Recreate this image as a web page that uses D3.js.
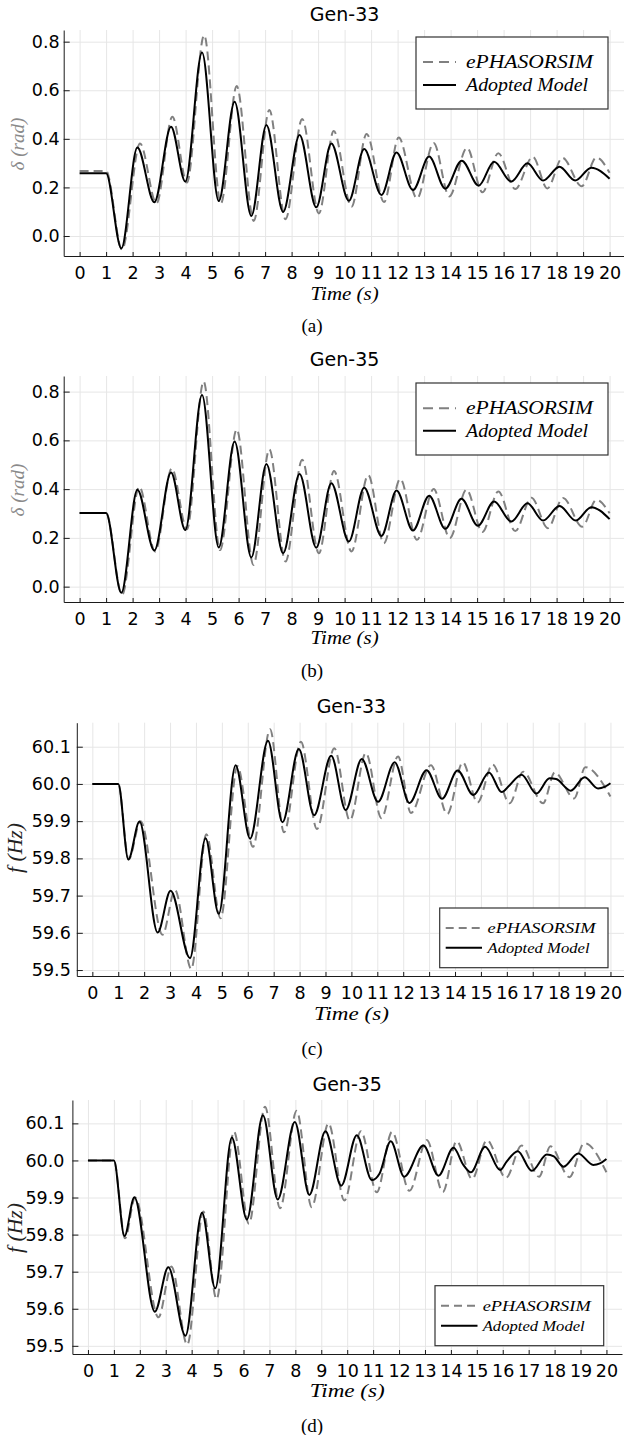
<!DOCTYPE html>
<html>
<head>
<meta charset="utf-8">
<script src="https://cdn.jsdelivr.net/npm/d3@7"></script>
<style>
  body { margin: 0; background: #fff; }
  svg { display: block; }
</style>
</head>
<body>
<div id="chart"></div>
<script>
/* global d3 */

// ---- values ----
let timeTicks = [0, 1, 2, 3, 4, 5, 6, 7, 8, 9, 10, 11, 12, 13, 14, 15, 16, 17, 18, 19, 20]
let deltaTicks = [0.0, 0.2, 0.4, 0.6, 0.8]
let freqTicks = [59.5, 59.6, 59.7, 59.8, 59.9, 60.0, 60.1]
let seriesNames = ['ePHASORSIM', 'Adopted Model']
let panelTitles = ['Gen-33', 'Gen-35', 'Gen-33', 'Gen-35']
let captions = ['(a)', '(b)', '(c)', '(d)']

// (a) Gen-33 rotor angle, rad
let g33DeltaRefT = [0, 1, 1.6, 2.28, 2.9, 3.5, 4.05, 4.7, 5.33, 5.93, 6.57, 7.16, 7.77, 8.4, 9.03, 9.59, 10.26, 10.83, 11.49, 12.04, 12.73, 13.36, 13.95, 14.62, 15.2, 15.8, 16.44, 17.1, 17.65, 18.22, 18.95, 19.5, 20]
let g33DeltaRefV = [0.268, 0.268, -0.056, 0.381, 0.134, 0.491, 0.22, 0.827, 0.134, 0.617, 0.062, 0.519, 0.069, 0.482, 0.093, 0.432, 0.12, 0.42, 0.14, 0.405, 0.155, 0.383, 0.163, 0.363, 0.18, 0.341, 0.193, 0.326, 0.196, 0.322, 0.205, 0.323, 0.26]
let g33DeltaModT = [0, 1, 1.575, 2.18, 2.82, 3.45, 3.99, 4.62, 5.25, 5.85, 6.48, 7.05, 7.68, 8.3, 8.93, 9.5, 10.16, 10.74, 11.39, 11.96, 12.58, 13.19, 13.8, 14.42, 15.06, 15.64, 16.29, 16.9, 17.49, 18.11, 18.7, 19.31, 20]
let g33DeltaModV = [0.258, 0.258, -0.051, 0.364, 0.139, 0.45, 0.224, 0.755, 0.144, 0.553, 0.082, 0.457, 0.099, 0.416, 0.118, 0.381, 0.145, 0.358, 0.169, 0.344, 0.189, 0.327, 0.195, 0.31, 0.207, 0.306, 0.224, 0.299, 0.228, 0.285, 0.228, 0.281, 0.236]

// (b) Gen-35 rotor angle, rad
let g35DeltaRefT = [0, 1, 1.6, 2.25, 2.85, 3.48, 4.05, 4.68, 5.3, 5.93, 6.56, 7.16, 7.77, 8.4, 9.03, 9.6, 10.26, 10.89, 11.48, 12.1, 12.73, 13.36, 13.97, 14.6, 15.2, 15.8, 16.44, 17.05, 17.67, 18.24, 18.97, 19.5, 20]
let g35DeltaRefV = [0.302, 0.302, -0.034, 0.41, 0.144, 0.485, 0.235, 0.841, 0.15, 0.645, 0.089, 0.563, 0.103, 0.52, 0.137, 0.474, 0.144, 0.458, 0.178, 0.442, 0.192, 0.4, 0.199, 0.398, 0.224, 0.39, 0.228, 0.365, 0.24, 0.364, 0.246, 0.356, 0.301]
let g35DeltaModT = [0, 1, 1.575, 2.18, 2.82, 3.45, 3.99, 4.62, 5.25, 5.85, 6.48, 7.05, 7.68, 8.3, 8.93, 9.5, 10.16, 10.74, 11.39, 11.96, 12.58, 13.19, 13.8, 14.41, 15.03, 15.64, 16.29, 16.9, 17.49, 18.11, 18.72, 19.31, 20]
let g35DeltaModV = [0.302, 0.302, -0.025, 0.397, 0.148, 0.468, 0.232, 0.786, 0.161, 0.595, 0.12, 0.503, 0.137, 0.462, 0.16, 0.424, 0.185, 0.406, 0.208, 0.394, 0.23, 0.373, 0.237, 0.36, 0.25, 0.349, 0.267, 0.342, 0.271, 0.331, 0.271, 0.326, 0.277]

// (c) Gen-33 frequency, Hz
let g33FreqRefT = [0, 1, 1.4, 1.86, 2.71, 3.19, 3.82, 4.4, 4.95, 5.6, 6.2, 6.86, 7.4, 8.05, 8.67, 9.34, 9.94, 10.56, 11.16, 11.8, 12.3, 13.07, 13.7, 14.3, 14.87, 15.45, 16.11, 16.63, 17.4, 17.85, 18.6, 19.03, 20]
let g33FreqRefV = [60.0, 60.0, 59.797, 59.9, 59.595, 59.715, 59.503, 59.865, 59.639, 60.048, 59.831, 60.147, 59.87, 60.113, 59.879, 60.096, 59.902, 60.083, 59.908, 60.074, 59.922, 60.05, 59.919, 60.058, 59.95, 60.052, 59.948, 60.033, 59.948, 60.031, 59.961, 60.045, 59.966]
let g33FreqModT = [0, 1, 1.39, 1.82, 2.52, 3.02, 3.77, 4.37, 4.88, 5.53, 6.09, 6.78, 7.34, 7.97, 8.56, 9.22, 9.78, 10.4, 11.03, 11.67, 12.24, 12.9, 13.5, 14.1, 14.71, 15.31, 15.8, 16.1, 16.57, 17.14, 17.65, 17.9, 18.47, 19.0, 19.52, 19.77, 20]
let g33FreqModV = [60.0, 60.0, 59.797, 59.899, 59.601, 59.713, 59.532, 59.854, 59.651, 60.05, 59.853, 60.116, 59.897, 60.094, 59.916, 60.076, 59.93, 60.067, 59.952, 60.058, 59.949, 60.037, 59.96, 60.036, 59.97, 60.031, 59.978, 59.996, 60.025, 59.974, 60.015, 60.013, 59.982, 60.018, 59.988, 59.992, 60.002]

// (d) Gen-35 frequency, Hz
let g35FreqRefT = [0, 1, 1.43, 1.82, 2.72, 3.22, 3.83, 4.45, 4.96, 5.63, 6.21, 6.83, 7.41, 8.05, 8.63, 9.28, 9.89, 10.53, 11.14, 11.73, 12.4, 13.07, 13.69, 14.22, 14.82, 15.39, 16.12, 16.73, 17.4, 17.84, 18.57, 19.15, 20]
let g35FreqRefV = [60.0, 60.0, 59.79, 59.9, 59.577, 59.714, 59.503, 59.862, 59.626, 60.078, 59.829, 60.145, 59.871, 60.134, 59.874, 60.1, 59.892, 60.079, 59.914, 60.077, 59.918, 60.055, 59.915, 60.052, 59.95, 60.055, 59.953, 60.04, 59.956, 60.038, 59.955, 60.047, 59.968]
let g35FreqModT = [0, 1, 1.41, 1.79, 2.58, 3.1, 3.76, 4.4, 4.91, 5.55, 6.13, 6.75, 7.32, 7.98, 8.54, 9.16, 9.77, 10.37, 10.95, 11.25, 11.68, 12.2, 12.94, 13.52, 14.1, 14.48, 14.77, 15.32, 15.9, 16.15, 16.58, 17.12, 17.7, 17.97, 18.34, 18.91, 19.49, 19.75, 20]
let g35FreqModV = [60.0, 60.0, 59.796, 59.901, 59.592, 59.712, 59.527, 59.859, 59.655, 60.062, 59.841, 60.122, 59.895, 60.104, 59.907, 60.079, 59.932, 60.068, 59.947, 59.965, 60.052, 59.956, 60.04, 59.959, 60.034, 59.988, 59.968, 60.037, 59.974, 59.997, 60.025, 59.972, 60.016, 60.011, 59.983, 60.019, 59.988, 59.992, 60.004]

// ---- layout ----
let W = 624
let H = 1435
let refColor = '#808080'
let gridColor = '#e6e6e6'
let tickFont = 'DejaVu Sans, Noto Sans, sans-serif'
let mathFont = 'Liberation Serif, DejaVu Serif, serif'

let panels = [
    {
        ticks: deltaTicks, fmt: d3.format('.1f'), yLabel: 'δ (rad)', yLabelColor: '#8a8a8a', yLabelSize: 19, yLabelLen: 53, yLabelX: 18,
        ref: d3.zip(g33DeltaRefT, g33DeltaRefV), mod: d3.zip(g33DeltaModT, g33DeltaModV),
        left: 63.7, right: 625.5, top: 30, bottom: 256, yDomain: [-0.0823, 0.848],
        titleY: 14, xLabelY: 294, xLabelLen: 68, captionY: 325, yPad: 4, yLabelY: 144,
        legend: { x0: 416, y0: 37, x1: 608, y1: 109, rows: [62, 85], l0: 423, l1: 456, tx: 466, widths: [127, 122], size: 18, dash: '10,6' }
    },
    {
        ticks: deltaTicks, fmt: d3.format('.1f'), yLabel: 'δ (rad)', yLabelColor: '#8a8a8a', yLabelSize: 19, yLabelLen: 53, yLabelX: 18,
        ref: d3.zip(g35DeltaRefT, g35DeltaRefV), mod: d3.zip(g35DeltaModT, g35DeltaModV),
        left: 63.7, right: 625.5, top: 376, bottom: 602, yDomain: [-0.063, 0.864],
        titleY: 359, xLabelY: 638, xLabelLen: 68, captionY: 670, yPad: 4, yLabelY: 490,
        legend: { x0: 416, y0: 383, x1: 608, y1: 455, rows: [408.3, 430.7], l0: 423, l1: 456, tx: 466, widths: [127, 122], size: 18, dash: '10,6' }
    },
    {
        ticks: freqTicks, fmt: d3.format('.1f'), yLabel: 'f (Hz)', yLabelColor: '#222', yLabelSize: 21, yLabelLen: 50, yLabelX: 16,
        ref: d3.zip(g33FreqRefT, g33FreqRefV), mod: d3.zip(g33FreqModT, g33FreqModV),
        left: 76.8, right: 626, top: 722.7, bottom: 976, yDomain: [59.484, 60.1645],
        titleY: 706, xLabelY: 1014.5, xLabelLen: 75, captionY: 1048, yPad: 6, yLabelY: 848,
        legend: { x0: 439.7, y0: 908, x1: 608, y1: 967.7, rows: [928, 947.7], l0: 445.7, l1: 482, tx: 487.5, widths: [108, 102], size: 15, dash: '8,5' }
    },
    {
        ticks: freqTicks, fmt: d3.format('.1f'), yLabel: 'f (Hz)', yLabelColor: '#222', yLabelSize: 21, yLabelLen: 50, yLabelX: 16,
        ref: d3.zip(g35FreqRefT, g35FreqRefV), mod: d3.zip(g35FreqModT, g35FreqModV),
        left: 72.4, right: 622, top: 1100, bottom: 1354, yDomain: [59.478, 60.163],
        titleY: 1084, xLabelY: 1391, xLabelLen: 75, captionY: 1425, yPad: 8, yLabelY: 1228,
        legend: { x0: 435, y0: 1285.7, x1: 603.7, y1: 1345.7, rows: [1305.7, 1325.7], l0: 441, l1: 477.5, tx: 482.7, widths: [108, 102], size: 15, dash: '8,5' }
    }
]

let svg = d3.select('#chart').append('svg')
    .attr('width', W)
    .attr('height', H)

let DrawPanel = function (cfg, i) {
    this.cfg = cfg
    this.i = i
    this.g = svg.append('g').attr('class', 'panel')
    this.xScale = d3.scaleLinear().domain([-0.6, 20.6]).range([cfg.left, cfg.right])
    this.yScale = d3.scaleLinear().domain(cfg.yDomain).range([cfg.bottom, cfg.top])
}

DrawPanel.prototype.grid = function () {
    let c = this.cfg
    let xGrid = d3.axisBottom(this.xScale)
        .tickValues(timeTicks)
        .tickSize(-(c.bottom - c.top))
        .tickFormat('')
    let yGrid = d3.axisLeft(this.yScale)
        .tickValues(c.ticks)
        .tickSize(-(c.right - c.left))
        .tickFormat('')

    this.g.append('g')
        .attr('transform', 'translate(0,' + c.bottom + ')')
        .call(xGrid)
        .call(g => g.select('.domain').remove())
        .selectAll('line').attr('stroke', gridColor)
    this.g.append('g')
        .attr('transform', 'translate(' + c.left + ',0)')
        .call(yGrid)
        .call(g => g.select('.domain').remove())
        .selectAll('line').attr('stroke', gridColor)
}

DrawPanel.prototype.lines = function () {
    let xScale = this.xScale
    let yScale = this.yScale
    let line = d3.line()
        .x(function (d) { return xScale(d[0]) })
        .y(function (d) { return yScale(d[1]) })
        .curve(d3.curveMonotoneX)

    this.g.append('path')
        .attr('d', line(this.cfg.ref))
        .attr('fill', 'none')
        .attr('stroke', refColor)
        .attr('stroke-width', 2)
        .attr('stroke-dasharray', '9,5')

    this.g.append('path')
        .attr('d', line(this.cfg.mod))
        .attr('fill', 'none')
        .attr('stroke', '#000')
        .attr('stroke-width', 2)
}

DrawPanel.prototype.axes = function () {
    let c = this.cfg
    let xAxis = d3.axisBottom(this.xScale)
        .tickValues(timeTicks)
        .tickSizeInner(-4)
        .tickSizeOuter(0)
        .tickPadding(10.5)
        .tickFormat(d3.format('d'))
    let yAxis = d3.axisLeft(this.yScale)
        .tickValues(c.ticks)
        .tickSizeInner(-6)
        .tickSizeOuter(0)
        .tickPadding(c.yPad)
        .tickFormat(c.fmt)

    let gx = this.g.append('g') // x axis
        .attr('transform', 'translate(0,' + c.bottom + ')')
        .call(xAxis)
    let gy = this.g.append('g') // y axis
        .attr('transform', 'translate(' + c.left + ',0)')
        .call(yAxis)

    ;[gx, gy].forEach(function (g) {
        g.select('.domain').attr('stroke', '#1a1a1a')
        g.selectAll('.tick line').attr('stroke', '#1a1a1a')
        g.selectAll('.tick text')
            .attr('fill', '#000')
            .style('font-family', tickFont)
            .style('font-size', '17.5px')
    })

    // title
    this.g.append('text')
        .attr('x', (c.left + c.right) / 2)
        .attr('y', c.titleY)
        .attr('dy', '0.35em')
        .attr('text-anchor', 'middle')
        .style('font-family', tickFont)
        .style('font-size', '19px')
        .text(panelTitles[this.i])

    // x label
    this.g.append('text')
        .attr('x', (c.left + c.right) / 2)
        .attr('y', c.xLabelY)
        .attr('dy', '0.3em')
        .attr('text-anchor', 'middle')
        .attr('textLength', c.xLabelLen)
        .attr('lengthAdjust', 'spacingAndGlyphs')
        .style('font-family', mathFont)
        .style('font-style', 'italic')
        .style('font-size', '19px')
        .text('Time (s)')

    // y label
    this.g.append('text')
        .attr('transform', 'translate(' + c.yLabelX + ',' + c.yLabelY + ') rotate(-90)')
        .attr('dy', '0.3em')
        .attr('text-anchor', 'middle')
        .attr('textLength', c.yLabelLen)
        .attr('lengthAdjust', 'spacingAndGlyphs')
        .attr('fill', c.yLabelColor)
        .style('font-family', mathFont)
        .style('font-style', 'italic')
        .style('font-size', c.yLabelSize + 'px')
        .text(c.yLabel)

    // caption
    this.g.append('text')
        .attr('x', W / 2)
        .attr('y', c.captionY)
        .attr('dy', '0.35em')
        .attr('text-anchor', 'middle')
        .style('font-family', mathFont)
        .style('font-size', '19px')
        .text(captions[this.i])
}

DrawPanel.prototype.legend = function () {
    let L = this.cfg.legend
    let lg = this.g.append('g').attr('class', 'legend')

    lg.append('rect')
        .attr('x', L.x0)
        .attr('y', L.y0)
        .attr('width', L.x1 - L.x0)
        .attr('height', L.y1 - L.y0)
        .attr('fill', '#fff')
        .attr('stroke', '#333')
        .attr('stroke-width', 1.2)

    seriesNames.forEach(function (name, k) {
        lg.append('line')
            .attr('x1', L.l0)
            .attr('x2', L.l1)
            .attr('y1', L.rows[k])
            .attr('y2', L.rows[k])
            .attr('stroke', k === 0 ? refColor : '#000')
            .attr('stroke-width', 2)
            .attr('stroke-dasharray', k === 0 ? L.dash : null)
        lg.append('text')
            .attr('x', L.tx)
            .attr('y', L.rows[k])
            .attr('dy', '0.33em')
            .attr('textLength', L.widths[k])
            .attr('lengthAdjust', 'spacingAndGlyphs')
            .style('font-family', mathFont)
            .style('font-style', 'italic')
            .style('font-size', L.size + 'px')
            .text(name)
    })
}

panels.forEach(function (cfg, i) {
    let p = new DrawPanel(cfg, i)
    p.grid()
    p.lines()
    p.axes()
    p.legend()
})
</script>
</body>
</html>
